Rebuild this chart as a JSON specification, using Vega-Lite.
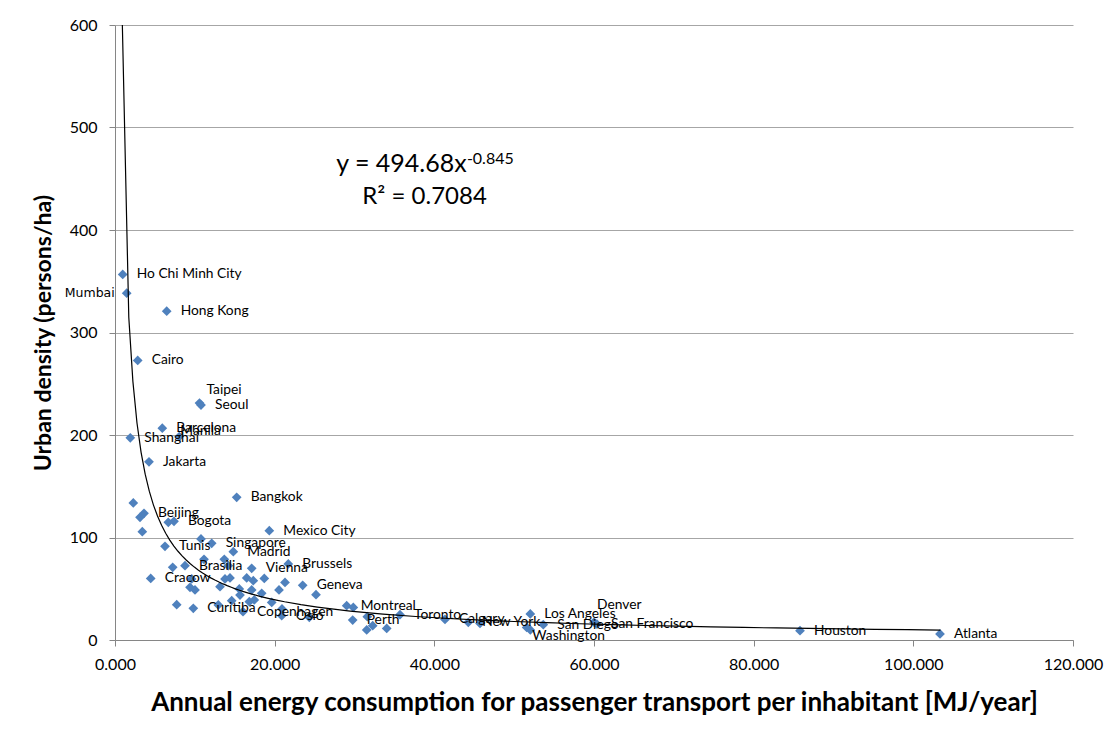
{
  "$schema": "https://vega.github.io/schema/vega-lite/v6.json",
  "width": 958,
  "height": 615,
  "autosize": "none",
  "padding": {"left": 115, "top": 25, "right": 42, "bottom": 93},
  "background": "white",
  "config": {"view": {"stroke": null}, "font": "Lato"},
  "datasets": {
    "cities": [
      {"city": "Ho Chi Minh City", "energy": 965, "density": 356.6},
      {"city": "Mumbai", "energy": 1465, "density": 338.4},
      {"city": "Hong Kong", "energy": 6476, "density": 320.8},
      {"city": "Cairo", "energy": 2843, "density": 272.7},
      {"city": "Taipei", "energy": 10584, "density": 231.2},
      {"city": "Seoul", "energy": 10772, "density": 229.2},
      {"city": "Barcelona", "energy": 5925, "density": 206.6},
      {"city": "Manila", "energy": 8054, "density": 198.5},
      {"city": "Shanghai", "energy": 1916, "density": 197.2},
      {"city": "Jakarta", "energy": 4259, "density": 173.8},
      {"city": "Bangkok", "energy": 15244, "density": 139.2},
      {"city": "Beijing", "energy": 3633, "density": 123.6},
      {"city": "Bogota", "energy": 7390, "density": 115.8},
      {"city": "Mexico City", "energy": 19328, "density": 106.7},
      {"city": "Tunis", "energy": 6263, "density": 91.4},
      {"city": "Singapore", "energy": 12113, "density": 94.3},
      {"city": "Madrid", "energy": 14818, "density": 86.2},
      {"city": "Brasilia", "energy": 8768, "density": 72.5},
      {"city": "Vienna", "energy": 17123, "density": 69.9},
      {"city": "Brussels", "energy": 21707, "density": 74.2},
      {"city": "Geneva", "energy": 23511, "density": 53.3},
      {"city": "Cracow", "energy": 4472, "density": 60.1},
      {"city": "Curitiba", "energy": 9808, "density": 30.9},
      {"city": "Copenhagen", "energy": 16033, "density": 27.6},
      {"city": "Oslo", "energy": 20881, "density": 23.7},
      {"city": "Montreal", "energy": 29022, "density": 33.5},
      {"city": "Perth", "energy": 29773, "density": 19.5},
      {"city": "Toronto", "energy": 35699, "density": 24.7},
      {"city": "Calgary", "energy": 41336, "density": 20.1},
      {"city": "New York", "energy": 44255, "density": 17.2},
      {"city": "Washington", "energy": 52021, "density": 9.8},
      {"city": "Los Angeles", "energy": 52021, "density": 25.4},
      {"city": "San Diego", "energy": 53647, "density": 14.9},
      {"city": "Denver", "energy": 60000, "density": 17.4},
      {"city": "San Francisco", "energy": 60375, "density": 15.4},
      {"city": "Houston", "energy": 85803, "density": 9.1},
      {"city": "Atlanta", "energy": 103340, "density": 5.9},
      {"city": "", "energy": 2292, "density": 133.7},
      {"city": "", "energy": 3132, "density": 119.7},
      {"city": "", "energy": 3420, "density": 105.7},
      {"city": "", "energy": 6676, "density": 114.8},
      {"city": "", "energy": 10772, "density": 98.6},
      {"city": "", "energy": 11148, "density": 78.7},
      {"city": "", "energy": 13691, "density": 78.7},
      {"city": "", "energy": 7228, "density": 70.9},
      {"city": "", "energy": 14192, "density": 72.5},
      {"city": "", "energy": 9607, "density": 59.6},
      {"city": "", "energy": 9395, "density": 51.4},
      {"city": "", "energy": 10021, "density": 48.8},
      {"city": "", "energy": 13152, "density": 52.0},
      {"city": "", "energy": 13779, "density": 59.6},
      {"city": "", "energy": 14405, "density": 60.5},
      {"city": "", "energy": 16497, "density": 60.5},
      {"city": "", "energy": 17323, "density": 57.9},
      {"city": "", "energy": 18701, "density": 60.1},
      {"city": "", "energy": 21294, "density": 56.2},
      {"city": "", "energy": 25177, "density": 44.2},
      {"city": "", "energy": 15570, "density": 49.8},
      {"city": "", "energy": 17123, "density": 48.8},
      {"city": "", "energy": 18376, "density": 45.5},
      {"city": "", "energy": 20543, "density": 48.8},
      {"city": "", "energy": 15658, "density": 43.9},
      {"city": "", "energy": 14618, "density": 38.4},
      {"city": "", "energy": 12939, "density": 34.2},
      {"city": "", "energy": 7729, "density": 34.5},
      {"city": "", "energy": 16822, "density": 37.4},
      {"city": "", "energy": 17449, "density": 39.1},
      {"city": "", "energy": 19628, "density": 36.7},
      {"city": "", "energy": 24338, "density": 22.1},
      {"city": "", "energy": 29850, "density": 31.8},
      {"city": "", "energy": 20918, "density": 30.3},
      {"city": "", "energy": 31603, "density": 22.7},
      {"city": "", "energy": 31528, "density": 9.8},
      {"city": "", "energy": 32280, "density": 14.0},
      {"city": "", "energy": 34033, "density": 11.3},
      {"city": "", "energy": 45720, "density": 16.2},
      {"city": "", "energy": 51570, "density": 12.3}
    ],
    "notes": [
      {"part": "eq", "label": "y = 494.68x", "energy": 44054, "density": 456.5},
      {"part": "exp", "label": "-0.845", "energy": 44079, "density": 464.7},
      {"part": "r2", "label": "R² = 0.7084", "energy": 30977, "density": 425.0}
    ]
  },
  "layer": [
    {
      "data": {"name": "cities"},
      "mark": {"type": "point", "shape": "diamond", "filled": true, "size": 95, "color": "#4F81BD", "opacity": 1},
      "encoding": {
        "x": {
          "field": "energy", "type": "quantitative",
          "scale": {"domain": [0, 120000], "nice": false, "zero": false},
          "axis": {
            "values": [0, 20000, 40000, 60000, 80000, 100000, 120000],
            "labelExpr": "format(datum.value / 1000, '.3f')",
            "grid": false,
            "domainColor": "#868686", "tickColor": "#868686", "tickSize": 6,
            "labelFontSize": 16, "labelColor": "#000000", "labelPadding": 10, "labelFlush": false,
            "title": "Annual energy consumption for passenger transport per inhabitant [MJ/year]",
            "titleFontSize": 26, "titleFontWeight": "bold", "titleColor": "#000000", "titlePadding": 17
          }
        },
        "y": {
          "field": "density", "type": "quantitative",
          "scale": {"domain": [0, 600], "nice": false},
          "axis": {
            "values": [0, 100, 200, 300, 400, 500, 600],
            "grid": true, "gridColor": "#a6a6a6",
            "domainColor": "#868686", "tickColor": "#868686", "tickSize": 6,
            "labelFontSize": 16, "labelColor": "#000000", "labelPadding": 12,
            "title": "Urban density (persons/ha)",
            "titleFontSize": 23, "titleFontWeight": "bold", "titleColor": "#000000", "titlePadding": 14
          }
        }
      }
    },
    {
      "data": {"name": "cities"},
      "transform": [
        {"regression": "density", "on": "energy", "method": "pow", "extent": [700, 103400]}
      ],
      "mark": {"type": "line", "color": "#000000", "strokeWidth": 1.2, "clip": true},
      "encoding": {
        "x": {"field": "energy", "type": "quantitative"},
        "y": {"field": "density", "type": "quantitative"}
      }
    },
    {
      "data": {"name": "cities"},
      "transform": [
        {"filter": "datum.city != '' && indexof(['Mumbai','Taipei','Manila','Denver','Washington'], datum.city) < 0"}
      ],
      "mark": {"type": "text", "align": "left", "baseline": "middle", "dx": 14, "fontSize": 13.8, "color": "#000000"},
      "encoding": {
        "x": {"field": "energy", "type": "quantitative"},
        "y": {"field": "density", "type": "quantitative"},
        "text": {"field": "city"}
      }
    },
    {
      "data": {"name": "cities"},
      "transform": [{"filter": "datum.city == 'Mumbai'"}],
      "mark": {"type": "text", "align": "right", "baseline": "middle", "dx": -12, "fontSize": 12.5, "font": "DejaVu Sans", "color": "#000000"},
      "encoding": {
        "x": {"field": "energy", "type": "quantitative"},
        "y": {"field": "density", "type": "quantitative"},
        "text": {"field": "city"}
      }
    },
    {
      "data": {"name": "cities"},
      "transform": [{"filter": "datum.city == 'Taipei'"}],
      "mark": {"type": "text", "align": "left", "baseline": "middle", "dx": 7, "dy": -13, "fontSize": 13.8, "color": "#000000"},
      "encoding": {
        "x": {"field": "energy", "type": "quantitative"},
        "y": {"field": "density", "type": "quantitative"},
        "text": {"field": "city"}
      }
    },
    {
      "data": {"name": "cities"},
      "transform": [{"filter": "datum.city == 'Manila'"}],
      "mark": {"type": "text", "align": "left", "baseline": "middle", "dx": 1, "dy": -6, "fontSize": 13.8, "color": "#000000"},
      "encoding": {
        "x": {"field": "energy", "type": "quantitative"},
        "y": {"field": "density", "type": "quantitative"},
        "text": {"field": "city"}
      }
    },
    {
      "data": {"name": "cities"},
      "transform": [{"filter": "datum.city == 'Denver'"}],
      "mark": {"type": "text", "align": "left", "baseline": "middle", "dx": 3, "dy": -17, "fontSize": 13.8, "color": "#000000"},
      "encoding": {
        "x": {"field": "energy", "type": "quantitative"},
        "y": {"field": "density", "type": "quantitative"},
        "text": {"field": "city"}
      }
    },
    {
      "data": {"name": "cities"},
      "transform": [{"filter": "datum.city == 'Washington'"}],
      "mark": {"type": "text", "align": "left", "baseline": "middle", "dx": 2, "dy": 6, "fontSize": 13.8, "color": "#000000"},
      "encoding": {
        "x": {"field": "energy", "type": "quantitative"},
        "y": {"field": "density", "type": "quantitative"},
        "text": {"field": "city"}
      }
    },
    {
      "data": {"name": "notes"},
      "transform": [{"filter": "datum.part == 'eq'"}],
      "mark": {"type": "text", "align": "right", "baseline": "alphabetic", "fontSize": 25, "color": "#000000"},
      "encoding": {
        "x": {"field": "energy", "type": "quantitative"},
        "y": {"field": "density", "type": "quantitative"},
        "text": {"field": "label"}
      }
    },
    {
      "data": {"name": "notes"},
      "transform": [{"filter": "datum.part == 'exp'"}],
      "mark": {"type": "text", "align": "left", "baseline": "alphabetic", "fontSize": 16, "color": "#000000"},
      "encoding": {
        "x": {"field": "energy", "type": "quantitative"},
        "y": {"field": "density", "type": "quantitative"},
        "text": {"field": "label"}
      }
    },
    {
      "data": {"name": "notes"},
      "transform": [{"filter": "datum.part == 'r2'"}],
      "mark": {"type": "text", "align": "left", "baseline": "alphabetic", "fontSize": 24, "color": "#000000"},
      "encoding": {
        "x": {"field": "energy", "type": "quantitative"},
        "y": {"field": "density", "type": "quantitative"},
        "text": {"field": "label"}
      }
    }
  ]
}
